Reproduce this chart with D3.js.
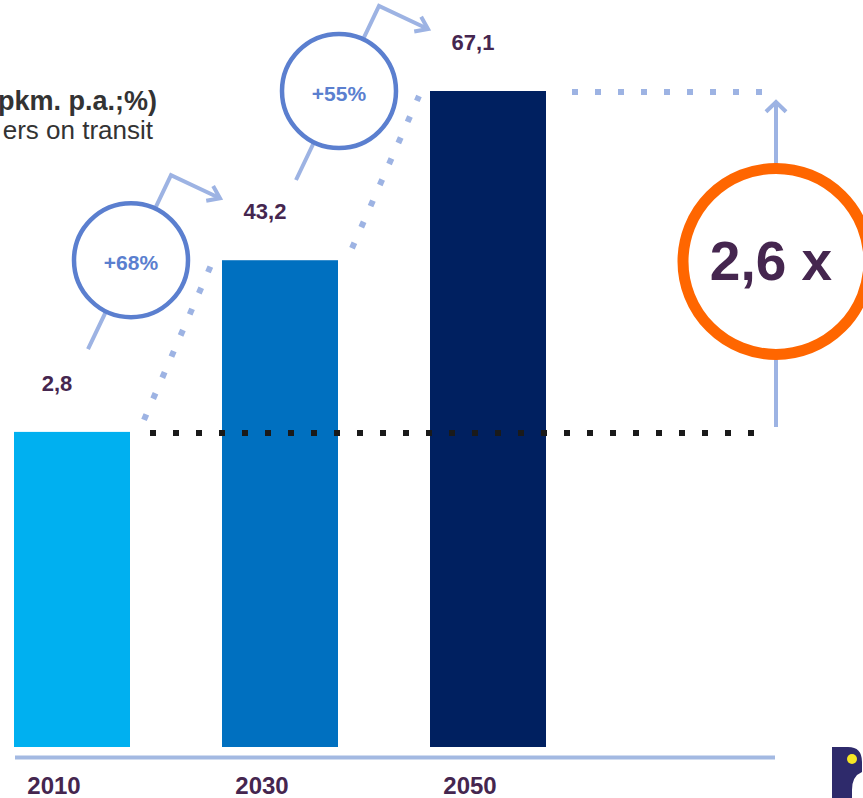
<!DOCTYPE html>
<html>
<head>
<meta charset="utf-8">
<script src="https://cdn.jsdelivr.net/npm/d3@7/dist/d3.min.js"></script>
<style>
  html, body { margin: 0; padding: 0; background: #ffffff; }
  svg { display: block; font-family: "Liberation Sans", Arial, sans-serif; }
</style>
</head>
<body>
<svg id="chart" width="863" height="798"></svg>
<script>
// ---- data ----
const years = ["2010", "2030", "2050"];
const values = [25.8, 43.2, 67.1];
const valueLabels = ["2,8", "43,2", "67,1"];
const growthLabels = ["+68%", "+55%"];
const multipleLabel = "2,6 x";
const titleLines = ["pkm. p.a.;%)", "ers on transit"];
const barColors = ["#00b0f0", "#0070c0", "#002060"];

// ---- setup ----
const W = 863, H = 798;
const svg = d3.select("#chart");
const baseline = 747;

const x = d3.scaleBand().domain(years).range([14, 546]).paddingInner(0.4423).paddingOuter(0);
const y = d3.scalePow().exponent(0.3).domain([7.6, 67.1]).range([baseline, 91]);
const bw = x.bandwidth();

const purple = "#45264f";
const lightBlue = "#9db3e3";
const circleBlue = "#5b7fcf";

// ---- title (cropped at left) ----
svg.append("text").attr("x", 157).attr("y", 110).attr("text-anchor", "end")
  .attr("font-size", 27).attr("font-weight", "bold").attr("fill", "#333333").text(titleLines[0]);
svg.append("text").attr("x", 153).attr("y", 139).attr("text-anchor", "end")
  .attr("font-size", 26).attr("fill", "#333333").text(titleLines[1]);

// ---- bars ----
svg.selectAll("rect.bar").data(years).join("rect")
  .attr("class", "bar")
  .attr("x", d => x(d))
  .attr("y", (d, i) => y(values[i]))
  .attr("width", bw)
  .attr("height", (d, i) => baseline - y(values[i]))
  .attr("fill", (d, i) => barColors[i]);

// ---- axis line ----
svg.append("line").attr("x1", x(years[0]) + 1).attr("x2", 775)
  .attr("y1", baseline + 10.5).attr("y2", baseline + 10.5)
  .attr("stroke", "#a3b9e2").attr("stroke-width", 4);

// ---- year labels ----
svg.selectAll("text.year").data(years).join("text")
  .attr("class", "year")
  .attr("x", d => x(d) + bw / 2 - 18)
  .attr("y", 794)
  .attr("text-anchor", "middle")
  .attr("font-size", 24).attr("font-weight", "bold").attr("fill", purple)
  .text(d => d);

// ---- value labels ----
svg.selectAll("text.val").data(years).join("text")
  .attr("class", "val")
  .attr("x", d => x(d) + bw / 2 - 15)
  .attr("y", (d, i) => y(values[i]) - 41)
  .attr("text-anchor", "middle")
  .attr("font-size", 22).attr("font-weight", "bold").attr("fill", purple)
  .text((d, i) => valueLabels[i]);

// ---- black dotted reference line at 2010 level ----
const y0 = y(values[0]), y2 = y(values[2]);
svg.append("line")
  .attr("x1", x(years[0]) + bw + 20).attr("x2", 760)
  .attr("y1", y0 + 1).attr("y2", y0 + 1)
  .attr("stroke", "#1a1a1a").attr("stroke-width", 6).attr("stroke-dasharray", "6,17");

// ---- light blue dotted at 2050 level ----
svg.append("line")
  .attr("x1", x(years[2]) + bw + 26).attr("x2", 764)
  .attr("y1", y2 + 1).attr("y2", y2 + 1)
  .attr("stroke", lightBlue).attr("stroke-width", 6).attr("stroke-dasharray", "6,17");

// ---- diagonal dotted connectors ----
for (let i = 0; i < years.length - 1; i++) {
  svg.append("line")
    .attr("x1", x(years[i]) + bw + 14).attr("y1", y(values[i]) - 12)
    .attr("x2", x(years[i + 1]) - 11).attr("y2", y(values[i + 1]) + 5)
    .attr("stroke", lightBlue).attr("stroke-width", 6).attr("stroke-dasharray", "6,17");
}

// ---- chevron helper ----
function chevron(tip, from, len, ang) {
  const dx = tip[0] - from[0], dy = tip[1] - from[1];
  const L = Math.hypot(dx, dy);
  const ux = dx / L, uy = dy / L;
  const pts = [];
  [ang, -ang].forEach(a => {
    const c = Math.cos(a), s = Math.sin(a);
    const rx = (-ux) * c - (-uy) * s, ry = (-ux) * s + (-uy) * c;
    pts.push([tip[0] + rx * len, tip[1] + ry * len]);
  });
  return [pts[0], tip, pts[1]];
}

// ---- growth circles with bent arrows ----
for (let i = 0; i < years.length - 1; i++) {
  const cx = x(years[i]) + bw + 1;
  const cy = y(values[i + 1]);
  const p0 = [cx - 43, cy + 89], p1 = [cx + 40, cy - 85], p2 = [cx + 89, cy - 62];
  svg.append("polyline")
    .attr("points", [p0, p1, p2].map(p => p.join(",")).join(" "))
    .attr("fill", "none").attr("stroke", lightBlue).attr("stroke-width", 4)
    .attr("stroke-linejoin", "miter");
  svg.append("polyline")
    .attr("points", chevron(p2, p1, 14, 0.62).map(p => p.join(",")).join(" "))
    .attr("fill", "none").attr("stroke", lightBlue).attr("stroke-width", 4);
  svg.append("circle").attr("cx", cx).attr("cy", cy).attr("r", 57)
    .attr("fill", "#ffffff").attr("stroke", circleBlue).attr("stroke-width", 4.5);
  svg.append("text").attr("x", cx).attr("y", cy + 10)
    .attr("text-anchor", "middle").attr("font-size", 21).attr("font-weight", "bold")
    .attr("fill", circleBlue).text(growthLabels[i]);
}

// ---- right multiple arrow and circle ----
const ax = 776;
svg.append("line").attr("x1", ax).attr("x2", ax)
  .attr("y1", y0 - 5).attr("y2", y2 + 11)
  .attr("stroke", lightBlue).attr("stroke-width", 4);
svg.append("polyline")
  .attr("points", chevron([ax, y2 + 11], [ax, y0], 14, 0.8).map(p => p.join(",")).join(" "))
  .attr("fill", "none").attr("stroke", lightBlue).attr("stroke-width", 4);
const ocy = (y0 + y2) / 2;
svg.append("circle").attr("cx", ax).attr("cy", ocy).attr("r", 93)
  .attr("fill", "#ffffff").attr("stroke", "#ff6600").attr("stroke-width", 11);
svg.append("text").attr("x", ax - 5).attr("y", ocy + 19)
  .attr("text-anchor", "middle").attr("font-size", 55).attr("font-weight", "bold")
  .attr("fill", purple).text(multipleLabel);

// ---- logo (cropped, bottom right) ----
svg.append("path")
  .attr("d", "M832,747 H848 Q862,747 862,762 V772 Q852,776 852,790 V798 H832 Z")
  .attr("fill", "#2e2a6b");
svg.append("circle").attr("cx", 852).attr("cy", 759).attr("r", 5).attr("fill", "#f5e625");
</script>
</body>
</html>
